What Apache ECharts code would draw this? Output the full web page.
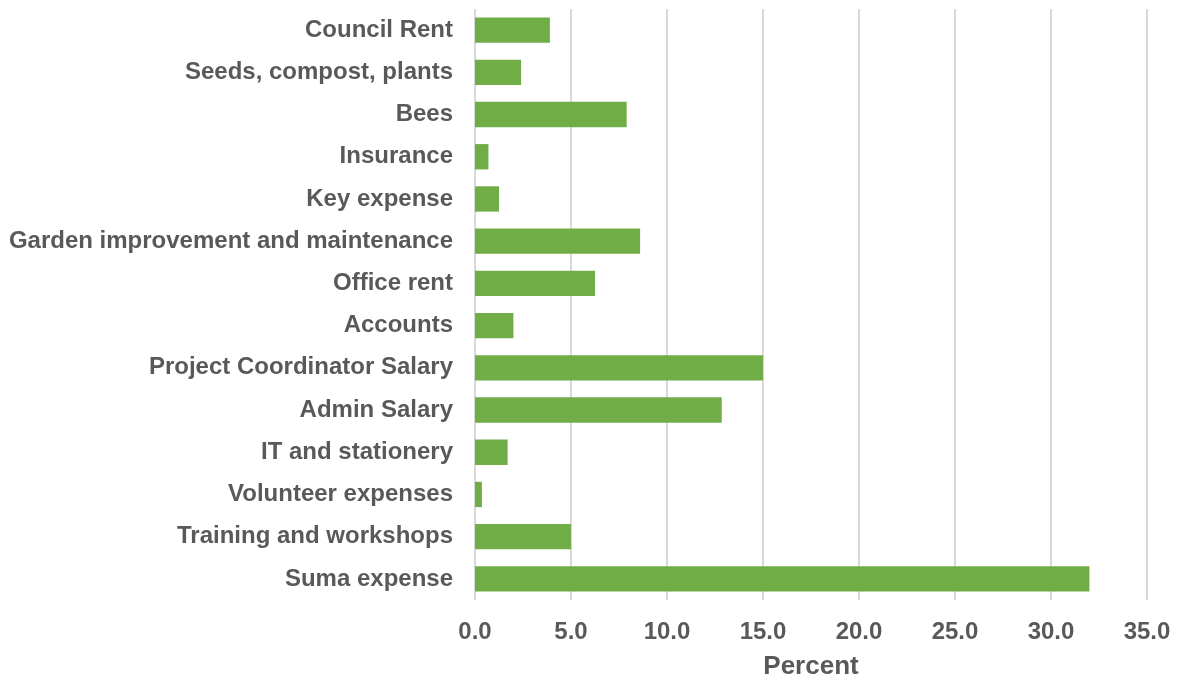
<!DOCTYPE html>
<html>
<head>
<meta charset="utf-8">
<script src="https://cdn.jsdelivr.net/npm/echarts@6/dist/echarts.min.js"></script>
<style>
  html, body { margin: 0; padding: 0; background: #ffffff; }
  #chart { width: 1178px; height: 677px; }
</style>
</head>
<body>
<div id="chart"></div>
<script>
// Expense categories, listed top to bottom
const categories = [
  'Council Rent',
  'Seeds, compost, plants',
  'Bees',
  'Insurance',
  'Key expense',
  'Garden improvement and maintenance',
  'Office rent',
  'Accounts',
  'Project Coordinator Salary',
  'Admin Salary',
  'IT and stationery',
  'Volunteer expenses',
  'Training and workshops',
  'Suma expense'
];

// Share of total spending, percent
const percentValues = [3.9, 2.4, 7.9, 0.7, 1.25, 8.6, 6.25, 2.0, 15.0, 12.85, 1.7, 0.36, 5.0, 32.0];

// Percent axis ticks
const axisMin = 0;
const axisMax = 35;
const axisStep = 5;

const textColor = '#595959';
const fontFamily = '"Liberation Sans", Arial, sans-serif';

const chart = echarts.init(document.getElementById('chart'), null, { renderer: 'canvas' });

chart.setOption({
  animation: false,
  backgroundColor: '#ffffff',
  grid: {
    left: 475, right: 31, top: 9, bottom: 77,
    containLabel: false,
    outerBoundsMode: 'none'
  },
  xAxis: {
    type: 'value',
    min: axisMin,
    max: axisMax,
    interval: axisStep,
    name: 'Percent',
    nameLocation: 'middle',
    nameGap: 54,
    nameTextStyle: { color: textColor, fontSize: 26, fontWeight: 'bold', fontFamily: fontFamily },
    axisLine: { show: false },
    axisTick: { show: false },
    axisLabel: {
      color: textColor,
      fontSize: 24,
      fontWeight: 'bold',
      fontFamily: fontFamily,
      margin: 20,
      formatter: v => v.toFixed(1)
    },
    splitLine: { show: true, lineStyle: { color: '#d9d9d9', width: 2 } }
  },
  yAxis: {
    type: 'category',
    data: categories,
    inverse: true,
    axisLine: { show: false },
    axisTick: { show: false },
    axisLabel: {
      color: textColor,
      fontSize: 24,
      fontWeight: 'bold',
      fontFamily: fontFamily,
      margin: 22,
      padding: [4, 0, 0, 0]
    },
    splitLine: { show: false }
  },
  series: [{
    type: 'bar',
    data: percentValues,
    barCategoryGap: '40%',
    itemStyle: { color: '#70AD47' }
  }]
});
</script>
</body>
</html>
